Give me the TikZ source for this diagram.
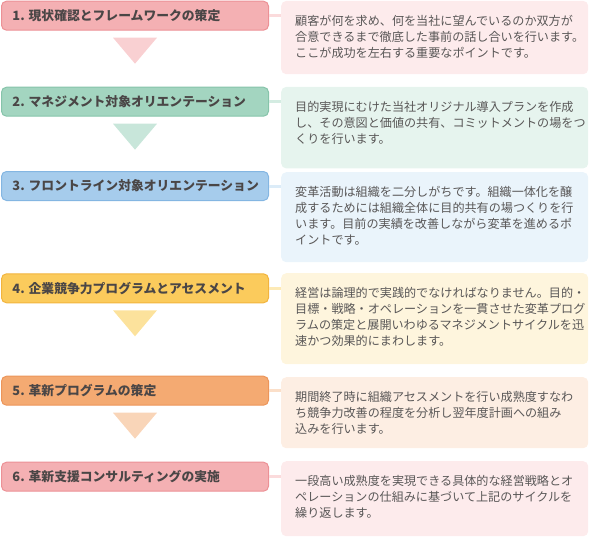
\documentclass[tikz,border=0pt]{standalone}
\usepackage{fontspec}
\newfontfamily\jp{Noto Sans CJK JP}
\usetikzlibrary{positioning, calc}
% step colours: A title fill, B title border, C arrow, D note panel
\definecolor{pkA}{HTML}{F4B0B3}
\definecolor{pkB}{HTML}{EC9196}
\definecolor{pkC}{HTML}{F9D0D2}
\definecolor{pkD}{HTML}{FDEBEC}
\definecolor{grA}{HTML}{A3D5C0}
\definecolor{grB}{HTML}{86C4AA}
\definecolor{grC}{HTML}{C8E6DA}
\definecolor{grD}{HTML}{E6F4EE}
\definecolor{blA}{HTML}{A6CCEC}
\definecolor{blB}{HTML}{84B6E2}
\definecolor{blC}{HTML}{D2E6F6}
\definecolor{blD}{HTML}{EAF4FB}
\definecolor{ylA}{HTML}{FBCB5C}
\definecolor{ylB}{HTML}{F2B43E}
\definecolor{ylC}{HTML}{FCE29C}
\definecolor{ylD}{HTML}{FEF5DD}
\definecolor{orA}{HTML}{F4AA72}
\definecolor{orB}{HTML}{EC955A}
\definecolor{orC}{HTML}{F9D5B8}
\definecolor{orD}{HTML}{FDEEE3}
\definecolor{ttlgray}{HTML}{4A4646}
\definecolor{txtgray}{HTML}{595757}

\begin{document}
\begin{tikzpicture}[x=1pt, y=1pt,
      ttl/.style={draw=#1B, fill=#1A, line width=1pt, rounded corners=5pt, anchor=north west,
                  minimum width=267pt, minimum height=29pt, inner xsep=11pt,
                  text=ttlgray, font=\jp\bfseries\fontsize{12.8}{14}\selectfont},
      pnl/.style={fill=#1D, rounded corners=5pt, anchor=north west, minimum width=307pt, inner sep=0pt},
      bdy/.style={anchor=north west, inner sep=0pt, align=left, text=txtgray,
                  font=\jp\fontsize{12.1}{16}\selectfont},
      conn/.style={draw=#1C!60!#1D, line width=3pt}]
      \useasboundingbox (0,0) rectangle (591,-536);
      \foreach \i/\c/\ty/\py/\ph/\ttxt/\btxt in {
        1/pk/0.7/0.7/73.3/{1. 現状確認とフレームワークの策定}/{顧客が何を求め、何を当社に望んでいるのか双方が\\合意できるまで徹底した事前の話し合いを行います。\\ここが成功を左右する重要なポイントです。},
        2/gr/86.7/86.7/81.5/{2. マネジメント対象オリエンテーション}/{目的実現にむけた当社オリジナル導入プランを作成\\し、その意図と価値の共有、コミットメントの場をつ\\くりを行います。},
        3/bl/171/172/90/{3. フロントライン対象オリエンテーション}/{変革活動は組織を二分しがちです。組織一体化を醸\\成するためには組織全体に目的共有の場つくりを行\\います。目前の実績を改善しながら変革を進めるポ\\イントです。},
        4/yl/273.3/273/91/{4. 企業競争力プログラムとアセスメント}/{経営は論理的で実践的でなければなりません。目的・\\目標・戦略・オペレーションを一貫させた変革プログ\\ラムの策定と展開いわゆるマネジメントサイクルを迅\\速かつ効果的にまわします。},
        5/or/375.7/377/71/{5. 革新プログラムの策定}/{期間終了時に組織アセスメントを行い成熟度すなわ\\ち競争力改善の程度を分析し翌年度計画への組み\\込みを行います。},
        6/pk/461.7/461/75/{6. 革新支援コンサルティングの実施}/{一段高い成熟度を実現できる具体的な経営戦略とオ\\ペレーションの仕組みに基づいて上記のサイクルを\\繰り返します。}} {
        \node[ttl=\c] (s\i) at (1,-\ty) {\makebox[245pt][l]{\ttxt}};
        \node[pnl=\c, minimum height=\ph pt] (d\i) at (281,-\py) {};
        \node[bdy] (t\i) at ([xshift=14pt, yshift=-14pt]d\i.north west) {\btxt};
        \draw[conn=\c] (s\i.east) -- (s\i.east -| d\i.west);
      }
      \foreach \i/\c in {1/pk, 2/gr, 4/yl, 5/or}
        \fill[fill=\c C] ($(s\i.south)+(-22,-7)$) -- ++(44,0) -- ++(-22,-26) -- cycle;
    \end{tikzpicture}
\end{document}
